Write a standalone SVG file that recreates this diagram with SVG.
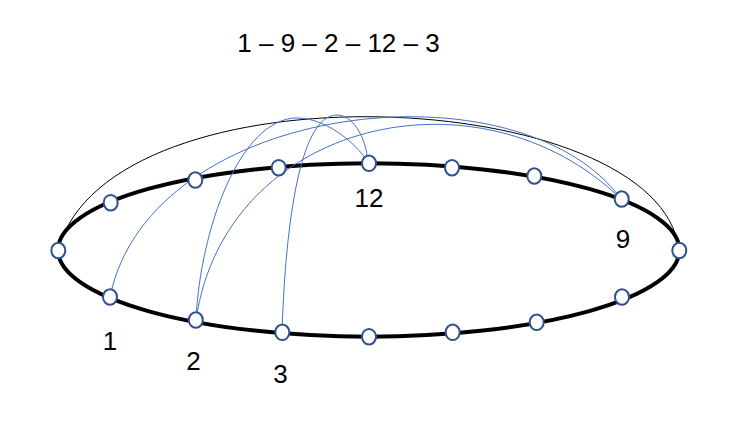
<svg xmlns="http://www.w3.org/2000/svg" width="738" height="434" viewBox="0 0 738 434">
  <style>
    .ring { fill: none; stroke: #000; stroke-width: 4; }
    .node { fill: #fff; stroke: #2F528F; stroke-width: 2; }
    .blue { fill: none; stroke: #4472C4; stroke-width: 1; }
    .thin { fill: none; stroke: #000; stroke-width: 1; }
    .lbl { font-family: "Liberation Sans", Arial, sans-serif; font-size: 26px; fill: #000; text-anchor: middle; }
  </style>
  <rect width="738" height="434" fill="#fff"/>
  <text class="lbl" x="338.5" y="52">1 – 9 – 2 – 12 – 3</text>
  <ellipse class="ring" cx="368.7" cy="250" rx="310.7" ry="86.7"/>
  <g id="connectors">
    <path class="thin" d="M58,250 C110,60 660,85 679,250"/>
    <path class="blue" d="M110,297 C150,100 520,60 621,199"/>
    <path class="blue" d="M196,320 C225,120 480,62 621,199"/>
    <path class="blue" d="M196,320 C200,230 240,118 297,118 C330,118 362,150 368,163"/>
    <path class="blue" d="M282,332 C285,240 297,115 337,115 C352,115 366,135 368,163"/>
  </g>
  <g id="n-left"><ellipse class="node" cx="58.3" cy="250.5" rx="7" ry="7.8"/></g>
  <g id="n-t1"><ellipse class="node" cx="110.7" cy="202.7" rx="7" ry="7.8"/></g>
  <g id="n-t2"><ellipse class="node" cx="195.3" cy="180" rx="7" ry="7.8"/></g>
  <g id="n-t3"><ellipse class="node" cx="278.7" cy="167.7" rx="7" ry="7.8"/></g>
  <g id="n-12"><ellipse class="node" cx="369" cy="163.3" rx="7" ry="7.8"/><text class="lbl" x="369" y="206.7">12</text></g>
  <g id="n-t5"><ellipse class="node" cx="452" cy="167.7" rx="7" ry="7.8"/></g>
  <g id="n-t6"><ellipse class="node" cx="534.3" cy="176" rx="7" ry="7.8"/></g>
  <g id="n-9"><ellipse class="node" cx="621.7" cy="199" rx="7" ry="7.8"/><text class="lbl" x="623" y="248.3">9</text></g>
  <g id="n-right"><ellipse class="node" cx="679.3" cy="250.5" rx="7" ry="7.8"/></g>
  <g id="n-b6"><ellipse class="node" cx="622" cy="297" rx="7" ry="7.8"/></g>
  <g id="n-b5"><ellipse class="node" cx="536.7" cy="322.3" rx="7" ry="7.8"/></g>
  <g id="n-b4"><ellipse class="node" cx="452.7" cy="332.3" rx="7" ry="7.8"/></g>
  <g id="n-b3"><ellipse class="node" cx="369" cy="336.7" rx="7" ry="7.8"/></g>
  <g id="n-3"><ellipse class="node" cx="282.3" cy="332.3" rx="7" ry="7.8"/><text class="lbl" x="280.5" y="382.7">3</text></g>
  <g id="n-2"><ellipse class="node" cx="195.8" cy="320" rx="7" ry="7.8"/><text class="lbl" x="193.5" y="370">2</text></g>
  <g id="n-1"><ellipse class="node" cx="110" cy="297" rx="7" ry="7.8"/><text class="lbl" x="110" y="350">1</text></g>
</svg>
